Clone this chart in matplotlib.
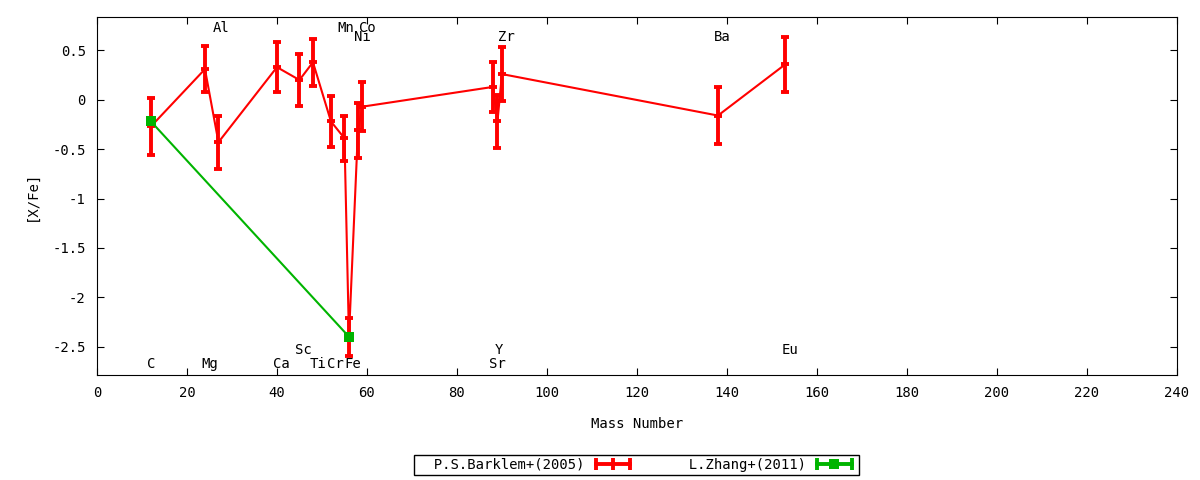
import matplotlib
matplotlib.use('Agg')
import matplotlib.pyplot as plt
from matplotlib.lines import Line2D
from matplotlib.legend_handler import HandlerLine2D

plt.rcParams['font.family'] = ['DejaVu Sans Mono']
plt.rcParams['font.size'] = 10

# P.S.Barklem+(2005)
mass = [12, 24, 27, 40, 45, 48, 52, 55, 56, 58, 59, 88, 89, 90, 138, 153]
xfe = [-0.27, 0.31, -0.43, 0.33, 0.20, 0.38, -0.22, -0.39, -2.40, -0.31, -0.07,
       0.13, -0.22, 0.26, -0.16, 0.36]
err = [0.29, 0.23, 0.27, 0.25, 0.26, 0.24, 0.26, 0.23, 0.19, 0.28, 0.25,
       0.25, 0.27, 0.27, 0.29, 0.28]

# L.Zhang+(2011)
mass_z = [12, 56]
xfe_z = [-0.22, -2.40]
err_z = [0.0, 0.0]

# element labels
elem = ['C', 'Mg', 'Al', 'Ca', 'Sc', 'Ti', 'Cr', 'Mn', 'Fe', 'Ni', 'Co',
        'Sr', 'Y', 'Zr', 'Ba', 'Eu']
elem_x = [12.1, 25.1, 27.7, 41.0, 45.8, 49.2, 52.9, 55.3, 56.8, 58.9, 60.1,
          88.9, 89.3, 90.9, 138.9, 154.0]
elem_y = [-2.68, -2.68, 0.73, -2.68, -2.53, -2.68, -2.68, 0.73, -2.68, 0.64, 0.73,
          -2.68, -2.53, 0.64, 0.64, -2.53]

red = '#ff0000'
green = '#00b400'

fig = plt.figure(figsize=(12, 4.8), dpi=100)
ax = fig.add_axes([0.0808, 0.2188, 0.9, 0.7458])

ax.errorbar(mass, xfe, yerr=err, color=red, lw=1.5, elinewidth=2.8,
            capsize=3, capthick=2.8, marker='_', ms=6, mew=2.8)
ax.errorbar(mass_z, xfe_z, yerr=err_z, color=green, lw=1.5, elinewidth=2.8,
            capsize=3, capthick=2.8, marker='s', ms=6.5, mew=0)

for name, x, y in zip(elem, elem_x, elem_y):
    ax.text(x, y, name, ha='center', va='center')

ax.set_xlim(0, 240)
ax.set_ylim(-2.787, 0.838)
ax.set_xticks(range(0, 241, 20))
ax.set_yticks([-2.5, -2, -1.5, -1, -0.5, 0, 0.5])
ax.set_yticklabels(['-2.5', '-2', '-1.5', '-1', '-0.5', '0', '0.5'])
ax.tick_params(direction='in', top=True, right=True, length=5, pad=8)
ax.set_xlabel('Mass Number', labelpad=12)
ax.set_ylabel('[X/Fe]', labelpad=10)

# gnuplot-style legend samples: bar with caps at both ends
h_red = Line2D([], [], color=red, lw=2.8, marker='|', ms=8, mew=2.8)
h_green_bar = Line2D([], [], color=green, lw=2.8, marker='|', ms=8, mew=2.8)
h_green_pt = Line2D([], [], color=green, lw=0, marker='s', ms=6.5, mew=0)
leg = fig.legend([h_red, (h_green_bar, h_green_pt)],
                 ['  P.S.Barklem+(2005)', '  L.Zhang+(2011)'],
                 handler_map={h_red: HandlerLine2D(numpoints=3),
                              h_green_bar: HandlerLine2D(numpoints=2),
                              h_green_pt: HandlerLine2D(numpoints=1)},
                 loc='center', bbox_to_anchor=(0.5304, 0.0313), ncol=2,
                 markerfirst=False, fancybox=False,
                 edgecolor='black', framealpha=1, handlelength=3.1,
                 handletextpad=0.5, columnspacing=2.7, borderpad=0.2,
                 borderaxespad=0)
leg.get_frame().set_linewidth(1.0)

fig.savefig('out.png', dpi=100)
